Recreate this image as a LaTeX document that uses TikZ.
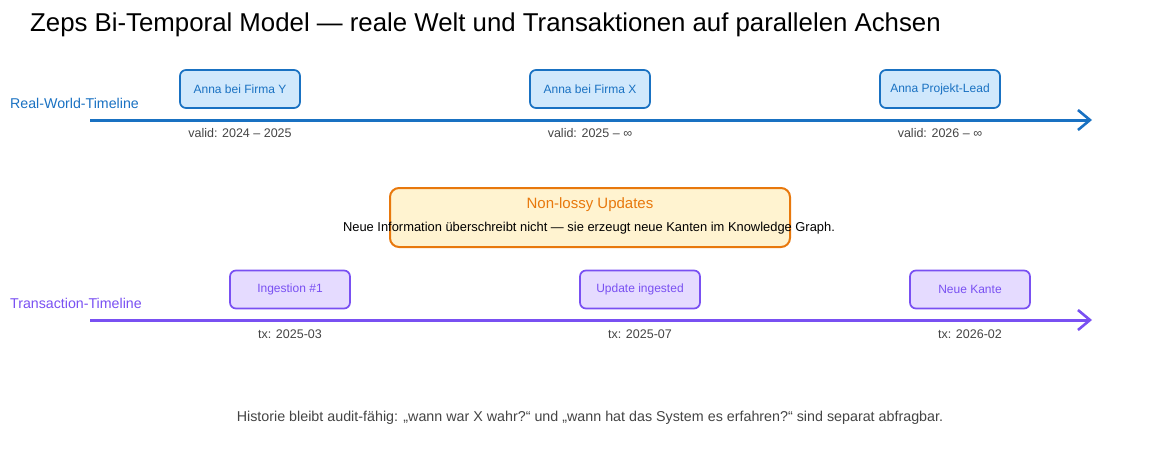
\documentclass[tikz,border=0pt]{standalone}
\usepackage{fontspec}
\setmainfont{Liberation Sans}
\usetikzlibrary{arrows.meta}
\definecolor{rwblue}{HTML}{1971C2}
\definecolor{rwfill}{HTML}{D0E8FC}
\definecolor{txpurple}{HTML}{7950F2}
\definecolor{txfill}{HTML}{E5DBFF}
\definecolor{noteorange}{HTML}{E8780C}
\definecolor{notefill}{HTML}{FFF3D0}
\definecolor{labelgray}{HTML}{444444}
\tikzset{
  eventbox/.style={draw, line width=1.7pt, rounded corners=6pt, minimum width=120pt, minimum height=38pt, font=\fontsize{12}{14}\selectfont},
  rwbox/.style={eventbox, draw=rwblue, fill=rwfill, text=rwblue},
  txbox/.style={eventbox, draw=txpurple, fill=txfill, text=txpurple},
  stamp/.style={text=labelgray, font=\fontsize{12.5}{15}\selectfont},
  timeline/.style={line width=3pt, -{Straight Barb[length=12pt,width=20pt,line width=2.6pt]}}
}
\begin{document}
\begin{tikzpicture}[x=1pt,y={(0,-1pt)}]
            \useasboundingbox (0,0) rectangle (1160,450);
            \node[anchor=west, inner sep=0pt, font=\fontsize{25.8}{30}\selectfont] (title) at (30,25) {Zeps Bi-Temporal Model — reale Welt und Transaktionen auf parallelen Achsen};
            % real-world axis
            \node[anchor=west, inner sep=0pt, text=rwblue, font=\fontsize{14.2}{17}\selectfont] (rwname) at (10,103) {Real-World-Timeline};
            \coordinate (rwstart) at (90,120);
            \coordinate (rwend) at (1092,120);
            \draw[timeline, rwblue] (rwstart) -- (rwend);
            \node[rwbox] (annay) at (240,89) {Anna bei Firma Y};
            \node[rwbox] (annax) at (590,89) {Anna bei Firma X};
            \node[rwbox] (annalead) at (940,89) {Anna Projekt-Lead};
            \node[stamp] (validy) at (240,133) {valid: 2024 – 2025};
            \node[stamp] (validx) at (590,133) {valid: 2025 – ∞};
            \node[stamp] (validlead) at (940,133) {valid: 2026 – ∞};
            % note
            \node[draw=noteorange, fill=notefill, line width=2pt, rounded corners=9pt, minimum width=400pt, minimum height=59pt] (notebox) at (590,217.5) {};
            \node[text=noteorange, font=\fontsize{15}{18}\selectfont] (notetitle) at (590,205) {Non-lossy Updates};
            \node[font=\fontsize{12.9}{15}\selectfont] (notetext) at (589,228) {Neue Information überschreibt nicht — sie erzeugt neue Kanten im Knowledge Graph.};
            % transaction axis
            \node[anchor=west, inner sep=0pt, text=txpurple, font=\fontsize{14.2}{17}\selectfont] (txname) at (10,303) {Transaction-Timeline};
            \coordinate (txstart) at (90,320);
            \coordinate (txend) at (1092,320);
            \draw[timeline, txpurple] (txstart) -- (txend);
            \node[txbox] (ingest) at (290,289.5) {Ingestion \#1};
            \node[txbox] (update) at (640,289.5) {Update ingested};
            \node[txbox] (kante) at (970,289.5) {Neue Kante};
            \node[stamp] (txingest) at (290,334) {tx: 2025-03};
            \node[stamp] (txupdate) at (640,334) {tx: 2025-07};
            \node[stamp] (txkante) at (970,334) {tx: 2026-02};
            \node[text=labelgray, font=\fontsize{14.3}{17}\selectfont] (footer) at (590,418) {Historie bleibt audit-fähig: „wann war X wahr?“ und „wann hat das System es erfahren?“ sind separat abfragbar.};
        \end{tikzpicture}
\end{document}
